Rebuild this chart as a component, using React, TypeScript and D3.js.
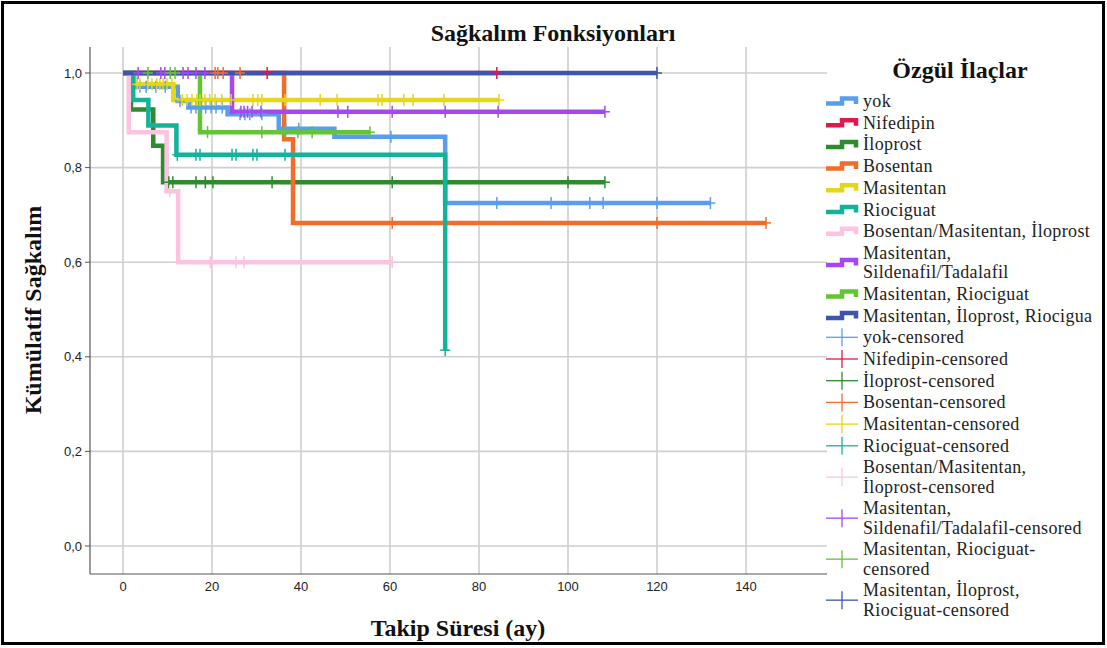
import * as d3 from 'd3'

const GROUPS = [
  'yok',
  'Nifedipin',
  'İloprost',
  'Bosentan',
  'Masitentan',
  'Riociguat',
  'Bosentan/Masitentan, İloprost',
  'Masitentan, Sildenafil/Tadalafil',
  'Masitentan, Riociguat',
  'Masitentan, İloprost, Riociguat',
]

const COLORS = [
  '#5b9ded', // yok
  '#e0184d', // Nifedipin
  '#2e8b2e', // İloprost
  '#f36c2b', // Bosentan
  '#e6d619', // Masitentan
  '#12b39b', // Riociguat
  '#fdc3e1', // Bosentan/Masitentan, İloprost
  '#a548f0', // Masitentan, Sildenafil/Tadalafil
  '#64c534', // Masitentan, Riociguat
  '#3e55ad', // Masitentan, İloprost, Riociguat
]

// survival drops per group: [month, survival after the drop]
const DROPS: [number, number][][] = [
  [[2.5, 0.971], [12.3, 0.941], [14.7, 0.927], [23.5, 0.913], [35, 0.882], [47.5, 0.865], [72.4, 0.725]],
  [],
  [[1.8, 0.923], [6.8, 0.846], [9.0, 0.769]],
  [[36.2, 0.86], [38.2, 0.683]],
  [[2.5, 0.976], [11.3, 0.943]],
  [[2.3, 0.943], [5.7, 0.889], [12.0, 0.827], [72.4, 0.414]],
  [[1.3, 0.875], [9.8, 0.75], [12.4, 0.6]],
  [[24.5, 0.918]],
  [[17.3, 0.875]],
  [],
]

// censored follow-up times (months) per group
const CENSORED: number[][] = [
  [3.8, 5.2, 7.4, 9.5, 12.8, 15.3, 16.4, 17.5, 18.6, 19.8, 20.9, 22.3, 26.3, 27.4, 28.5, 31.2, 36.6, 39.5, 60.2, 84, 96.2, 104.9, 107.9, 120, 132],
  [32.4, 84],
  [10.3, 11.2, 16.4, 18.5, 20.2, 33.5, 60.5, 100, 108.3],
  [20.7, 21.3, 22.5, 26.3, 60.5, 120, 144.5],
  [3.2, 3.8, 5.6, 6.5, 7.6, 8.3, 9.0, 9.9, 11.0, 13.3, 14.4, 15.5, 16.6, 17.3, 18.4, 19.5, 20.7, 22.2, 24.3, 29.2, 30.3, 31.2, 36.4, 44.3, 48.1, 57.3, 58.2, 63.1, 65.2, 72.1, 84.5],
  [12.2, 16.4, 17.3, 24.5, 25.4, 29.2, 30.1, 36.4, 72.4],
  [10.5, 19.6, 25.4, 27.2, 60.5],
  [3.4, 8.5, 9.4, 13.5, 14.6, 16.4, 18.4, 26.5, 27.2, 28, 29, 31, 48.3, 50.5, 60.5, 72.4, 84.3, 108.3],
  [5.6, 10.6, 11.7, 19, 31.2, 36.4, 39.3, 42.5, 55.5],
  [120],
]

const LINE_LABELS = [
  ['yok'],
  ['Nifedipin'],
  ['İloprost'],
  ['Bosentan'],
  ['Masitentan'],
  ['Riociguat'],
  ['Bosentan/Masitentan, İloprost'],
  ['Masitentan,', 'Sildenafil/Tadalafil'],
  ['Masitentan, Riociguat'],
  ['Masitentan, İloprost, Riociguat'],
]

const CENSOR_LABELS = [
  ['yok-censored'],
  ['Nifedipin-censored'],
  ['İloprost-censored'],
  ['Bosentan-censored'],
  ['Masitentan-censored'],
  ['Riociguat-censored'],
  ['Bosentan/Masitentan,', 'İloprost-censored'],
  ['Masitentan,', 'Sildenafil/Tadalafil-censored'],
  ['Masitentan, Riociguat-', 'censored'],
  ['Masitentan, İloprost,', 'Riociguat-censored'],
]

const X_TICKS = [0, 20, 40, 60, 80, 100, 120, 140]
const Y_TICKS = [0, 0.2, 0.4, 0.6, 0.8, 1.0]
const Y_TICK_LABELS = ['0,0', '0,2', '0,4', '0,6', '0,8', '1,0']

const SERIF = '"Liberation Serif", "Times New Roman", serif'
const SANS = '"Liberation Sans", Arial, sans-serif'

function survivalAt(drops: [number, number][], t: number) {
  let s = 1
  for (const [dt, ds] of drops) if (dt <= t) s = ds
  return s
}

export default function App() {
  const W = 1107
  const H = 648
  const plot = { left: 90, right: 827, top: 47, bottom: 574 }

  const x = d3.scaleLinear().domain([0, 140]).range([123, 746])
  const y = d3.scaleLinear().domain([0, 1]).range([546, 73])

  const stepLine = d3
    .line<[number, number]>()
    .x(d => x(d[0]))
    .y(d => y(d[1]))
    .curve(d3.curveStepAfter)

  const curves = GROUPS.map((g, i) => {
    const drops = DROPS[i]
    const lastDrop = drops.length ? drops[drops.length - 1][0] : 0
    const end = Math.max(lastDrop, ...CENSORED[i])
    const pts: [number, number][] = [[0, 1], ...drops]
    pts.push([end, survivalAt(drops, end)])
    return pts
  })

  // legend layout
  const legendEntries = [
    ...LINE_LABELS.map((lines, i) => ({ lines, color: COLORS[i], kind: 'line' })),
    ...CENSOR_LABELS.map((lines, i) => ({ lines, color: COLORS[i], kind: 'censor' })),
  ]
  let cy = 101
  let prevH = 0
  const legendRows = legendEntries.map((e, i) => {
    const h = e.lines.length === 1 ? 21.7 : 41
    if (i > 0) cy += prevH / 2 + h / 2
    prevH = h
    return { ...e, cy }
  })

  return (
    <svg
      width={W}
      height={H}
      style={{ position: 'absolute', left: 0, top: 0, background: '#fff' }}
    >
      <defs>
        <clipPath id="legend-clip">
          <rect x={820} y={85} width={272} height={545} />
        </clipPath>
      </defs>
      <rect x={0} y={0} width={W} height={H} fill="#fff" />
      <rect x={2.5} y={2.5} width={1101} height={641} fill="none" stroke="#000" strokeWidth={3} />

      {/* grid */}
      {X_TICKS.map(t => (
        <line key={'gx' + t} x1={x(t)} x2={x(t)} y1={plot.top} y2={plot.bottom} stroke="#cfcfcf" strokeWidth={1.6} />
      ))}
      {Y_TICKS.map(t => (
        <line key={'gy' + t} x1={plot.left} x2={plot.right} y1={y(t)} y2={y(t)} stroke="#cfcfcf" strokeWidth={1.6} />
      ))}

      {/* axes */}
      <line x1={plot.left} x2={plot.left} y1={plot.top} y2={plot.bottom} stroke="#555" strokeWidth={1.2} />
      <line x1={plot.left} x2={plot.right} y1={plot.bottom} y2={plot.bottom} stroke="#555" strokeWidth={1.2} />
      {Y_TICKS.map((t, i) => (
        <g key={'ty' + t}>
          <line x1={plot.left - 5} x2={plot.left} y1={y(t)} y2={y(t)} stroke="#555" strokeWidth={1} />
          <text x={82} y={y(t) + 4.5} textAnchor="end" fontFamily={SANS} fontSize={13} fill="#222">
            {Y_TICK_LABELS[i]}
          </text>
        </g>
      ))}
      {X_TICKS.map(t => (
        <text key={'tx' + t} x={x(t)} y={591} textAnchor="middle" fontFamily={SANS} fontSize={13} fill="#222">
          {t}
        </text>
      ))}

      {/* survival curves */}
      {curves.map((pts, i) => (
        <path key={'c' + i} d={stepLine(pts) ?? ''} fill="none" stroke={COLORS[i]} strokeWidth={4.5} />
      ))}

      {/* censored marks */}
      {CENSORED.map((times, i) =>
        times.map((t, j) => {
          const px = x(t)
          const py = y(survivalAt(DROPS[i], t))
          return (
            <g key={'m' + i + '-' + j} stroke={COLORS[i]} strokeWidth={1.5}>
              <line x1={px} x2={px} y1={py - 6} y2={py + 6} />
              <line x1={px - 5} x2={px + 5} y1={py} y2={py} />
            </g>
          )
        })
      )}

      {/* titles */}
      <text x={553} y={41} textAnchor="middle" fontFamily={SERIF} fontWeight="bold" fontSize={24} fill="#111">
        Sağkalım Fonksiyonları
      </text>
      <text x={458} y={636} textAnchor="middle" fontFamily={SERIF} fontWeight="bold" fontSize={24} fill="#111">
        Takip Süresi (ay)
      </text>
      <text
        transform={`translate(41,${310}) rotate(-90)`}
        textAnchor="middle"
        fontFamily={SERIF}
        fontWeight="bold"
        fontSize={24}
        fill="#111"
      >
        Kümülatif Sağkalım
      </text>

      {/* legend */}
      <text x={960} y={78} textAnchor="middle" fontFamily={SERIF} fontWeight="bold" fontSize={24} fill="#111">
        Özgül İlaçlar
      </text>
      <g clipPath="url(#legend-clip)">
        {legendRows.map((r, i) => (
          <g key={'l' + i}>
            {r.kind === 'line' ? (
              <path
                d={`M826,${r.cy + 2.5}H842V${r.cy - 2.5}H856V${r.cy + 3}`}
                fill="none"
                stroke={r.color}
                strokeWidth={4.5}
              />
            ) : (
              <g stroke={r.color} strokeWidth={1.3}>
                <line x1={826} x2={858} y1={r.cy} y2={r.cy} />
                <line x1={842} x2={842} y1={r.cy - 9} y2={r.cy + 9} />
              </g>
            )}
            {r.lines.map((s, k) => (
              <text
                key={k}
                x={863}
                y={r.cy + 6 + (r.lines.length === 1 ? 0 : k === 0 ? -9.75 : 9.75)}
                fontFamily={SERIF}
                fontSize={18}
                letterSpacing={0.35}
                fill="#222"
              >
                {s}
              </text>
            ))}
          </g>
        ))}
      </g>
    </svg>
  )
}
